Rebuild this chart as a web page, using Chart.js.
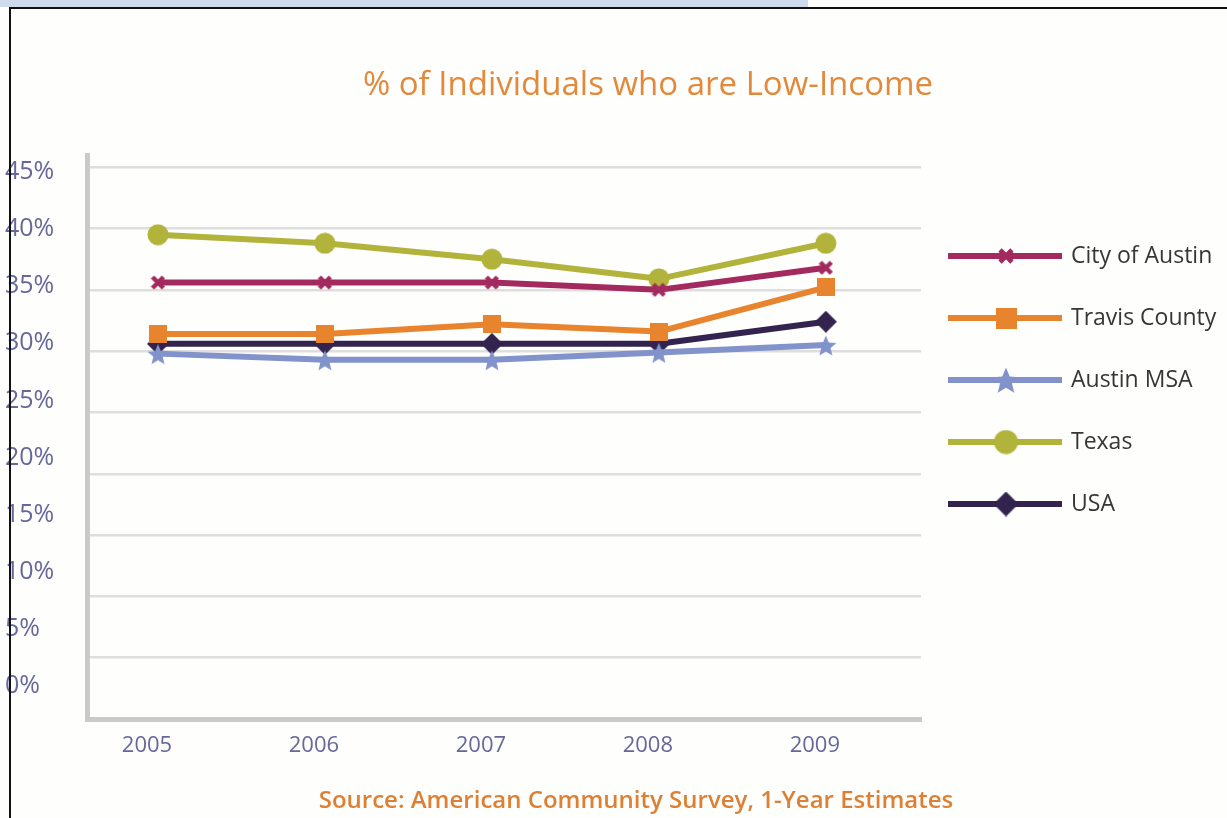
<!DOCTYPE html>
<html>
<head>
<meta charset="utf-8">
<script src="https://cdn.jsdelivr.net/npm/chart.js@4"></script>
<style>
  html, body { margin: 0; padding: 0; background: #fff; }
  #marco { position: relative; width: 1227px; height: 818px; overflow: hidden; background: #fefefd; }
  #banda { position: absolute; left: 0; top: 0; width: 808px; height: 7px; background: #cfdbec; }
  #borde { position: absolute; left: 9px; top: 7px; right: -4px; bottom: -4px; border-top: 2px solid #111; border-left: 2px solid #111; pointer-events: none; }
  #contenedor { position: absolute; left: 0; top: 0; width: 1227px; height: 818px; }
</style>
</head>
<body>
<div id="marco">
  <div id="contenedor"><canvas id="graficabajoingreso"></canvas></div>
  <div id="banda"></div>
  <div id="borde"></div>
</div>
<script>
// Datos (porcentaje de personas de bajo ingreso)
const anios = [2005, 2006, 2007, 2008, 2009];
const ciudadAustin = [35.6, 35.6, 35.6, 35.0, 36.8];
const condadoTravis = [31.4, 31.4, 32.2, 31.6, 35.2];
const austinMSA = [29.8, 29.3, 29.3, 29.9, 30.5];
const texas = [39.5, 38.8, 37.5, 35.9, 38.8];
const usa = [30.6, 30.6, 30.6, 30.6, 32.4];

const nombresSeries = ['City of Austin', 'Travis County', 'Austin MSA', 'Texas', 'USA'];
const tituloGrafica = '% of Individuals who are Low-Income';
const textoFuente = 'Source: American Community Survey, 1-Year Estimates';

const colorEtiquetas = '#67679a';
const colorNaranja = '#e2893b';

// Marcadores dibujados en un canvas pequeno
function crearMarcador(forma, color, tam) {
    const c = document.createElement('canvas');
    c.width = tam;
    c.height = tam;
    const ctx = c.getContext('2d');
    const m = tam / 2;
    ctx.fillStyle = color;
    ctx.strokeStyle = color;
    ctx.beginPath();
    if (forma === 'circulo') {
        ctx.arc(m, m, m - 0.5, 0, Math.PI * 2);
        ctx.fill();
    } else if (forma === 'cuadro') {
        ctx.fillRect(0, 0, tam, tam);
    } else if (forma === 'rombo') {
        ctx.moveTo(m, 0);
        ctx.lineTo(tam, m);
        ctx.lineTo(m, tam);
        ctx.lineTo(0, m);
        ctx.closePath();
        ctx.fill();
    } else if (forma === 'estrella') {
        for (let i = 0; i < 10; i++) {
            const r = i % 2 === 0 ? m : m * 0.45;
            const ang = -Math.PI / 2 + i * Math.PI / 5;
            const px = m + r * Math.cos(ang);
            const py = m + 1.5 + r * Math.sin(ang);
            if (i === 0) ctx.moveTo(px, py); else ctx.lineTo(px, py);
        }
        ctx.closePath();
        ctx.fill();
    } else if (forma === 'equis') {
        ctx.lineWidth = tam * 0.3;
        ctx.moveTo(2, 2);
        ctx.lineTo(tam - 2, tam - 2);
        ctx.moveTo(tam - 2, 2);
        ctx.lineTo(2, tam - 2);
        ctx.stroke();
    }
    return c;
}

const coloresSeries = ['#a32a5e', '#e8842d', '#8293cb', '#b1b33b', '#33234f'];
const formasSeries = ['equis', 'cuadro', 'estrella', 'circulo', 'rombo'];
const tamGrafica = [15, 18, 22, 22, 22];
const tamLeyenda = [16, 21, 28, 25, 25];

const marcadoresGrafica = formasSeries.map((f, i) => crearMarcador(f, coloresSeries[i], tamGrafica[i]));
const marcadoresLeyenda = formasSeries.map((f, i) => crearMarcador(f, coloresSeries[i], tamLeyenda[i]));

const valoresSeries = [ciudadAustin, condadoTravis, austinMSA, texas, usa];

function armarSerie(i) {
    return {
        label: nombresSeries[i],
        data: anios.map((a, k) => ({ x: a, y: valoresSeries[i][k] })),
        borderColor: coloresSeries[i],
        backgroundColor: coloresSeries[i],
        borderWidth: 6,
        borderJoinStyle: 'round',
        tension: 0,
        pointStyle: marcadoresGrafica[i],
        pointRadius: 10,
        pointHoverRadius: 10
    };
}

// Leyenda lateral, titulo y fuente
const textosPlugin = {
    id: 'textosGrafica',
    afterDraw(chart) {
        const ctx = chart.ctx;
        const x0 = chart.chartArea.right + 27;
        ctx.save();
        chart.data.datasets.forEach((ds, i) => {
            const y = 256 + i * 62;
            ctx.strokeStyle = ds.borderColor;
            ctx.lineWidth = 6;
            ctx.beginPath();
            ctx.moveTo(x0, y);
            ctx.lineTo(x0 + 114, y);
            ctx.stroke();
            const img = marcadoresLeyenda[i];
            ctx.drawImage(img, x0 + 58 - img.width / 2, y - img.height / 2);
            ctx.fillStyle = '#363636';
            ctx.font = '23px "Open Sans"';
            ctx.textAlign = 'left';
            ctx.textBaseline = 'middle';
            ctx.fillText(ds.label, x0 + 123, y);
        });

        ctx.fillStyle = colorNaranja;
        ctx.textAlign = 'center';
        ctx.textBaseline = 'middle';
        ctx.font = '33px "Open Sans"';
        ctx.fillText(tituloGrafica, 648, 86);

        ctx.fillStyle = '#de8033';
        ctx.font = '600 24px "Open Sans"';
        ctx.fillText(textoFuente, 636, 801);
        ctx.restore();
    }
};

const grafica = document.getElementById('graficabajoingreso');

const config = {
    type: 'line',
    data: {
        datasets: [0, 1, 2, 3, 4].map(armarSerie)
    },
    options: {
        responsive: true,
        maintainAspectRatio: false,
        animation: false,
        layout: { padding: { left: 5, right: 306, top: 155, bottom: 59 } },
        plugins: {
            legend: { display: false },
            title: { display: false }
        },
        scales: {
            x: {
                type: 'linear',
                min: 2004.575,
                max: 2009.57,
                grid: { display: false, drawTicks: false },
                border: { color: '#cacaca', width: 5 },
                ticks: {
                    stepSize: 1,
                    includeBounds: false,
                    padding: 14,
                    labelOffset: -11,
                    color: colorEtiquetas,
                    font: { family: 'Open Sans', size: 22 },
                    callback: function (v) { return String(v); }
                },
                afterFit: function (s) { s.height = 40; }
            },
            y: {
                position: 'left',
                weight: 0,
                min: 0,
                max: 46,
                grid: { color: '#dedede', lineWidth: 2.5, drawTicks: false },
                border: { color: '#cacaca', width: 5 },
                ticks: { display: false, stepSize: 5, includeBounds: false },
                afterFit: function (s) { s.width = 0; }
            },
            yEtiquetas: {
                position: 'left',
                weight: 1,
                min: -2.89,
                max: 46.49,
                grid: { display: false, drawTicks: false },
                border: { display: false },
                ticks: {
                    stepSize: 5,
                    includeBounds: false,
                    crossAlign: 'far',
                    color: colorEtiquetas,
                    font: { family: 'Open Sans', size: 25 },
                    callback: function (v) { return v + '%'; }
                },
                afterFit: function (s) { s.width = 82; }
            }
        }
    },
    plugins: [textosPlugin]
};

new Chart(grafica, config);
</script>
</body>
</html>
